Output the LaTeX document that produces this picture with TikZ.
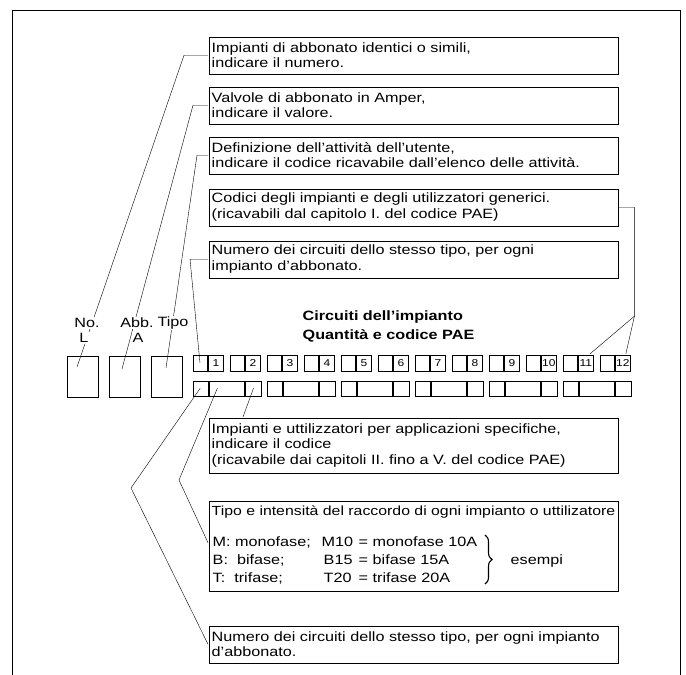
\documentclass[tikz,border=0pt]{standalone}
\usepackage{fontspec}
\setmainfont[FakeStretch=1.2]{Liberation Sans}
\usetikzlibrary{decorations.pathreplacing}

\begin{document}
\begin{tikzpicture}[x=1pt,y=-1pt]
\tikzset{font=\fontsize{13.5}{15.5}\selectfont}
\tikzset{line width=1.4pt}
\tikzset{note/.style={draw, anchor=north west, minimum width=409pt, text width=403pt, inner xsep=3pt, inner ysep=2pt, align=left}}
\tikzset{cell/.style={draw, anchor=north west, minimum height=16pt, minimum width=14.5pt, inner sep=0pt, font=\fontsize{10}{10}\selectfont}}
\tikzset{field/.style={draw, anchor=north west, minimum height=15pt, inner sep=0pt}}
\tikzset{slot/.style={draw, anchor=north west, minimum width=31pt, minimum height=41pt}}
\tikzset{row/.style={anchor=west, inner sep=0pt}}
\tikzset{head/.style={fill=white, inner sep=1pt}}
\useasboundingbox (0,0) rectangle (686,675);
\draw (12,675) -- (12,10) -- (680,10) -- (680,675);

\node[note, minimum height=37pt] (abbo) at (208,36) {Impianti di abbonato identici o simili,\\indicare il numero.};
\node[note, minimum height=37pt] (valv) at (208,86) {Valvole di abbonato in Amper,\\indicare il valore.};
\node[note, minimum height=37pt] (attiv) at (208,136) {Definizione dell'attività dell'utente,\\indicare il codice ricavabile dall'elenco delle attività.};
\node[note, minimum height=37pt] (codgen) at (208,188) {Codici degli impianti e degli utilizzatori generici.\\(ricavabili dal capitolo I. del codice PAE)};
\node[note, minimum height=37pt] (numtop) at (208,240) {Numero dei circuiti dello stesso tipo, per ogni\\impianto d'abbonato.};
\node[note, minimum height=55pt] (codspec) at (208,417) {Impianti e uttilizzatori per applicazioni specifiche,\\indicare il codice\\(ricavabile dai capitoli II. fino a V. del codice PAE)};
\node[note, minimum height=90pt] (raccordo) at (208,500) {};
\node[note, minimum height=37pt] (numbot) at (208,625) {Numero dei circuiti dello stesso tipo, per ogni impianto\\d'abbonato.};

\node[anchor=north west, align=left, inner sep=0pt, font=\bfseries\fontsize{13.5}{19}\selectfont] (titolo) at (302,310) {Circuiti dell'impianto\\Quantità e codice PAE};

\node[slot] (numl) at (66,355) {};
\node[slot] (abba) at (108,355) {};
\node[slot] (tipo) at (150,355) {};
\coordinate (inl) at (77,367);
\coordinate (ina) at (122,369);
\coordinate (int) at (166,368);

\foreach \k in {1,...,12} {
  \node[cell] (e\k) at (155+37*\k,354) {};
  \node[cell] (n\k) at (e\k.north east) {\k};
}
\foreach \g in {0,...,5} {
  \node[field, minimum width=15pt] (a\g) at (192+74*\g,380) {};
  \node[field, minimum width=35pt] (b\g) at (a\g.north east) {};
  \node[field, minimum width=16pt] (c\g) at (b\g.north east) {};
}

\node[row, font=\fontsize{13.2}{15.5}\selectfont] (racc) at (211,512) {Tipo e intensità del raccordo di ogni impianto o uttilizatore};
\node[row] (mono) at (212,542) {M: monofase;};
\node[row] (bifa) at (212,560) {B:\ \ bifase;};
\node[row] (trif) at (212,578) {T:\ \ trifase;};
\node[row] (mten) at (321,542) {M10};
\node[row] (bfif) at (323,560) {B15};
\node[row] (ttwe) at (323,578) {T20};
\node[row] (emono) at (358,542) {= monofase 10A};
\node[row] (ebifa) at (358,560) {= bifase 15A};
\node[row] (etrif) at (358,578) {= trifase 20A};
\coordinate (brtop) at (485,535);
\coordinate (brbot) at (485,584);
\draw[line width=1.1pt, decorate, decoration={brace, amplitude=7pt}] (brtop) -- (brbot);
\node[row] (esempi) at (510,561) {esempi};

\draw (abbo.west) -- ++(-24,0) -- (inl);
\draw (valv.west) -- ++(-15,0) -- (ina);
\draw (attiv.west) -- ++(-11,0) -- (int);
\draw (codgen.east) -- ++(16,0) -- ++(0,109) coordinate (fork) -- ([xshift=4pt]n11.north);
\draw (fork) -- ([xshift=3pt]n12.north);
\draw (numtop.west) -- ++(-18,0) -- (e1.center);
\draw ([xshift=35pt]codspec.north west) -- (c0.center);
\draw ([xshift=9pt]b0.west) -- (179,480) -- ([yshift=3pt]raccordo.west);
\draw (a0.center) -- (131,488) -- (numbot.west);

\node[head] (nolab) at (87,323) {No.};
\node[head] (llab) at (84,338) {L};
\node[head] (abblab) at (137,323) {Abb.};
\node[head] (alab) at (138,338) {A};
\node[head] (tipolab) at (173,323) {Tipo};
\end{tikzpicture}
\end{document}
